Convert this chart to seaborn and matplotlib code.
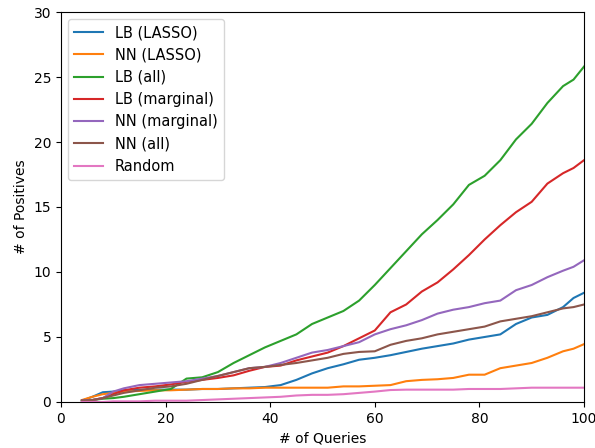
import pandas as pd
import seaborn as sns
import matplotlib
matplotlib.use("Agg")
import matplotlib.pyplot as plt

queries = [4, 6, 8, 10, 12, 15, 18, 21, 24, 27, 30, 33, 36, 39, 42, 45, 48, 51,
           54, 57, 60, 63, 66, 69, 72, 75, 78, 81, 84, 87, 90, 93, 96, 98, 100]

lb_lasso = [0.1, 0.4, 0.75, 0.8, 0.9, 0.95, 0.95, 0.95, 0.95, 1.0, 1.0, 1.05, 1.1, 1.15,
            1.3, 1.7, 2.2, 2.6, 2.9, 3.25, 3.4, 3.6, 3.85, 4.1, 4.3, 4.5, 4.8, 5.0,
            5.2, 6.0, 6.5, 6.7, 7.3, 8.0, 8.4]
nn_lasso = [0.15, 0.4, 0.6, 0.7, 0.8, 0.85, 0.9, 0.9, 0.95, 1.0, 1.0, 1.05, 1.05, 1.1,
            1.1, 1.1, 1.1, 1.1, 1.2, 1.2, 1.25, 1.3, 1.6, 1.7, 1.75, 1.85, 2.1, 2.1,
            2.6, 2.8, 3.0, 3.4, 3.9, 4.1, 4.45]
lb_all = [0.1, 0.15, 0.25, 0.3, 0.4, 0.6, 0.8, 1.0, 1.8, 1.9, 2.3, 3.0, 3.6, 4.2,
          4.7, 5.2, 6.0, 6.5, 7.0, 7.8, 9.0, 10.3, 11.6, 12.9, 14.0, 15.2, 16.7, 17.4,
          18.6, 20.2, 21.4, 23.0, 24.3, 24.8, 25.8]
lb_marginal = [0.1, 0.15, 0.3, 0.6, 0.9, 1.1, 1.2, 1.35, 1.55, 1.7, 1.85, 2.05, 2.4, 2.7,
               2.8, 3.2, 3.5, 3.8, 4.3, 4.9, 5.5, 6.9, 7.5, 8.5, 9.2, 10.2, 11.3, 12.5,
               13.6, 14.6, 15.4, 16.8, 17.6, 18.0, 18.6]
nn_marginal = [0.1, 0.15, 0.3, 0.8, 1.05, 1.3, 1.4, 1.5, 1.6, 1.8, 2.0, 2.3, 2.6, 2.7,
               3.0, 3.4, 3.8, 4.0, 4.3, 4.6, 5.2, 5.6, 5.9, 6.3, 6.8, 7.1, 7.3, 7.6,
               7.8, 8.6, 9.0, 9.6, 10.1, 10.4, 10.9]
nn_all = [0.1, 0.15, 0.3, 0.5, 0.7, 0.9, 1.1, 1.2, 1.4, 1.7, 2.0, 2.3, 2.6, 2.7,
          2.85, 3.0, 3.2, 3.4, 3.7, 3.85, 3.9, 4.4, 4.7, 4.9, 5.2, 5.4, 5.6, 5.8,
          6.2, 6.4, 6.6, 6.9, 7.2, 7.3, 7.5]
random_q = [0.0, 0.0, 0.0, 0.05, 0.05, 0.05, 0.1, 0.1, 0.1, 0.15, 0.2, 0.25, 0.3, 0.35,
            0.4, 0.5, 0.55, 0.55, 0.6, 0.7, 0.8, 0.92, 0.95, 0.95, 0.95, 0.95, 1.0, 1.0,
            1.0, 1.05, 1.1, 1.1, 1.1, 1.1, 1.1]

methods = ["LB (LASSO)", "NN (LASSO)", "LB (all)", "LB (marginal)",
           "NN (marginal)", "NN (all)", "Random"]
series = [lb_lasso, nn_lasso, lb_all, lb_marginal, nn_marginal, nn_all, random_q]

# long format for seaborn
rows = []
for name, vals in zip(methods, series):
    for q, v in zip(queries, vals):
        rows.append({"queries": q, "positives": v, "method": name})
df = pd.DataFrame(rows)

fig = plt.figure(figsize=(5.95, 4.48), dpi=100)
ax = fig.add_axes([0.1025, 0.1027, 0.879, 0.8705])

sns.lineplot(data=df, x="queries", y="positives", hue="method", hue_order=methods,
             palette="tab10", errorbar=None, linewidth=1.5, ax=ax)

ax.set_xlim(0, 100)
ax.set_ylim(0, 30)
ax.set_xlabel("# of Queries")
ax.set_ylabel("# of Positives")
sns.move_legend(ax, "upper left", title=None, fontsize=10.5)

fig.savefig("out.png", dpi=100)
